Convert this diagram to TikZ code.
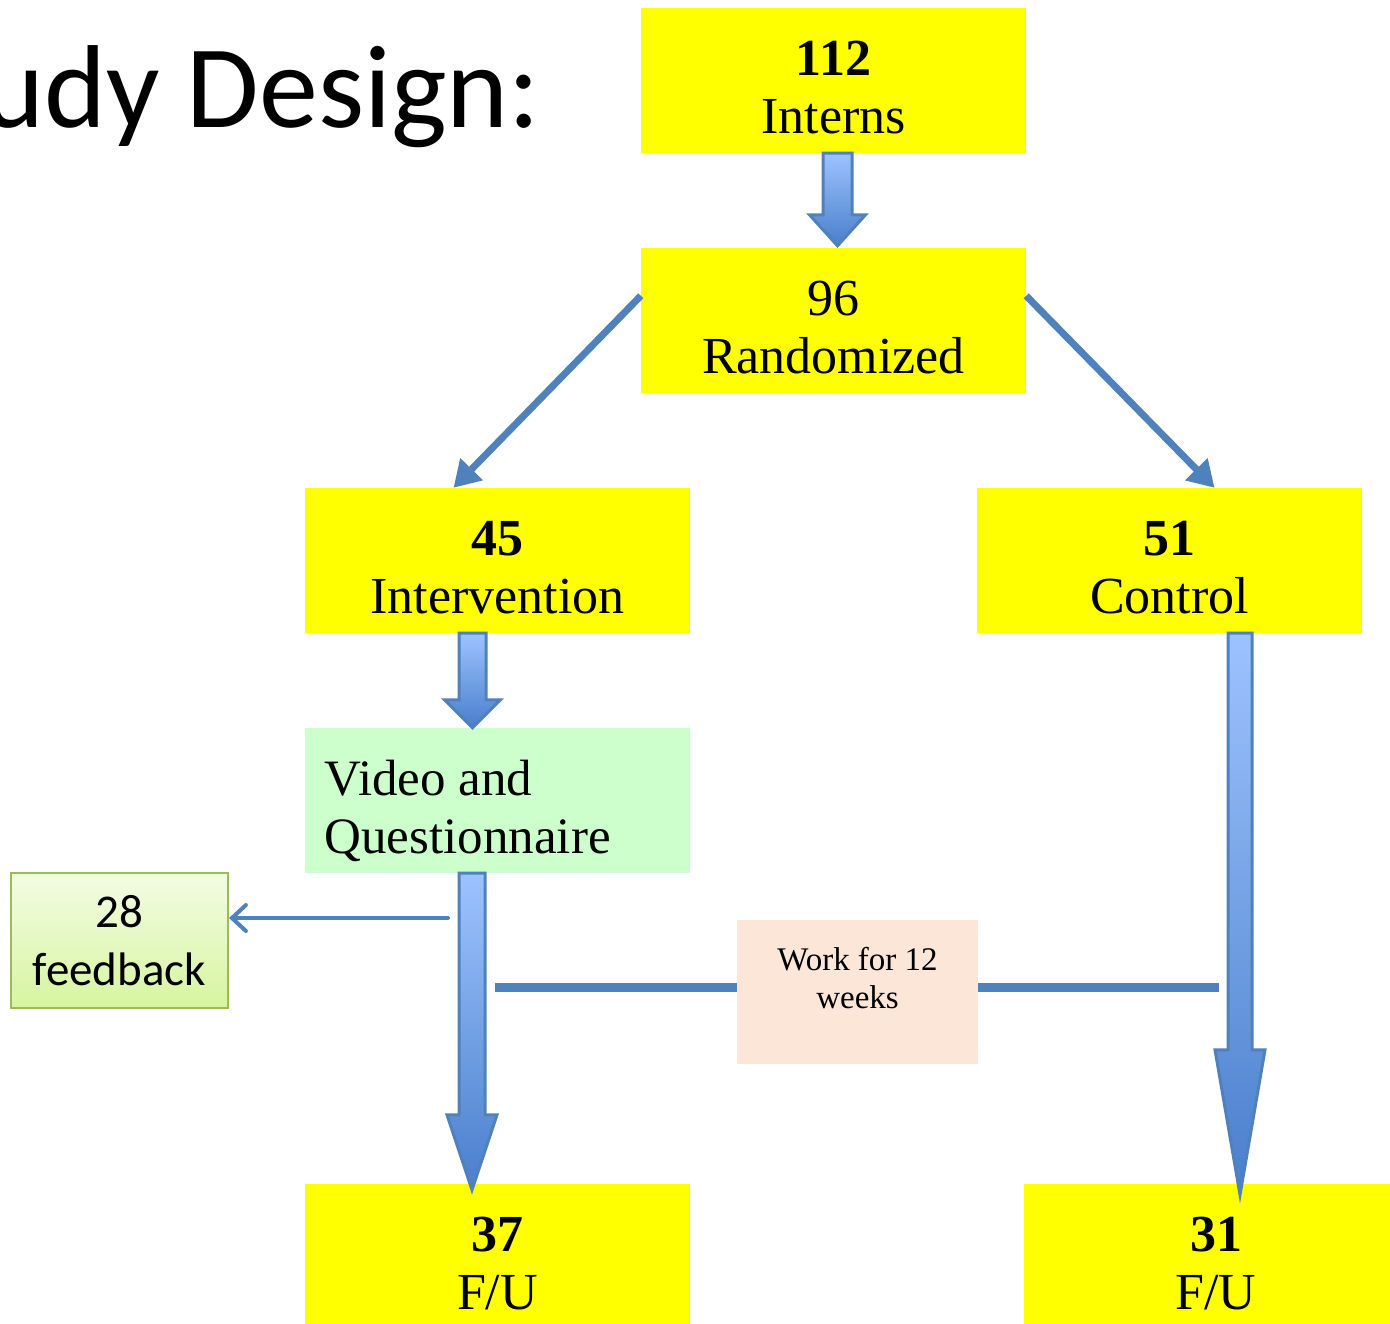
\documentclass[tikz,border=0pt]{standalone}
\usepackage{fontspec}
\setmainfont{Liberation Serif}
\newfontfamily\calibri{Carlito}
\usetikzlibrary{calc,arrows.meta}
\definecolor{ybox}{HTML}{FFFF00}
\definecolor{vgreen}{HTML}{CCFFCC}
\definecolor{peach}{HTML}{FCE6D8}
\definecolor{lblue}{HTML}{9DC3FF}
\definecolor{dblue}{HTML}{4A7FCB}
\definecolor{eblue}{HTML}{4F81BD}
\definecolor{fbtop}{HTML}{F3FCE3}
\definecolor{fbbot}{HTML}{D6F5A0}
\definecolor{fbedge}{HTML}{9BBB59}
\newcommand\ystrut{\rule{0pt}{49pt}}
\tikzset{
  yellowbox/.style={fill=ybox, minimum width=385pt, minimum height=145pt, inner sep=0pt, align=center, font=\fontsize{52}{58}\selectfont},
  greenbox/.style={fill=vgreen, minimum width=385pt, minimum height=145pt, inner sep=0pt},
  fbbox/.style={draw=fbedge, line width=2pt, top color=fbtop, bottom color=fbbot, minimum width=217pt, minimum height=135pt, inner sep=0pt, align=center, font=\calibri\fontsize{47}{58}\selectfont},
  workbox/.style={fill=peach, minimum width=241pt, minimum height=144pt, inner sep=0pt},
  barrow/.style={draw=eblue, line width=3pt, line join=miter, top color=lblue, bottom color=dblue},
  thinarrow/.style={draw=eblue, line width=7pt, -{Triangle[width=30pt,length=26pt]}},
  fbarrow/.style={draw=eblue, line width=4pt, line cap=round, -{Straight Barb[length=14pt,width=26pt,line cap=round]}},
  hline/.style={draw=eblue, line width=9pt},
}
\newcommand\blockarr[5]{%
  \path[barrow] let \p1=(#1), \p2=(#2) in
  (\x2-#3,\y1) -- (\x2+#3,\y1) -- (\x2+#3,\y2+#5) -- (\x2+#4,\y2+#5) -- (\x2,\y2)
  -- (\x2-#4,\y2+#5) -- (\x2-#3,\y2+#5) -- cycle;}
\begin{document}
\begin{tikzpicture}[x=1pt,y=-1pt]
\useasboundingbox (0,0) rectangle (1390,1324);
\clip (0,0) rectangle (1390,1324);
\node[anchor=base east, font=\calibri\fontsize{118}{118}\selectfont] (title) at (544,128) {Study Design:};
\node[yellowbox] (interns) at (833.5,80.5) {\ystrut\textbf{112}\\Interns};
\node[yellowbox] (rand) at (833.5,320.5) {\ystrut 96\\Randomized};
\node[yellowbox] (interv) at (497.5,560.5) {\ystrut\textbf{45}\\Intervention};
\node[yellowbox] (control) at (1169.5,560.5) {\ystrut\textbf{51}\\Control};
\node[greenbox] (video) at (497.5,800.5) {};
\node[anchor=base west, align=left, font=\fontsize{51}{58}\selectfont] (videotext) at (321,853) {Video and\\Questionnaire};
\node[yellowbox] (fu1) at (497.5,1256.5) {\ystrut\textbf{37}\\F/U};
\node[yellowbox, minimum width=384pt] (fu2) at (1216,1256.5) {\ystrut\textbf{31}\\F/U};
\node[fbbox] (fb) at (119.5,940.5) {28\\feedback};
\node[workbox] (work) at (857.5,992) {};
\node[align=center, font=\fontsize{33}{38}\selectfont] (worktext) at (857.5,978) {Work for 12\\weeks};
% connectors
\blockarr{interns.south}{[xshift=4pt,yshift=2pt]rand.north}{14.5pt}{28pt}{31pt}
\blockarr{interv.south}{[xshift=-25pt,yshift=0pt]video.north}{13.5pt}{28pt}{28pt}
\draw[thinarrow] ([yshift=-48pt]rand.north west) -- ([xshift=-44pt]interv.north);
\draw[thinarrow] ([yshift=-48pt]rand.north east) -- ([xshift=45pt]control.north);
\coordinate (fbstart) at (448,918);
\draw[fbarrow] (fbstart) -- (fbstart -| fb.east);
\coordinate (wl) at (495,987);
\coordinate (wr) at (1219,987);
\draw[hline] (wl) -- (wl -| work.west);
\draw[hline] (wr -| work.east) -- (wr);
\blockarr{video.south}{[xshift=-25.5pt,yshift=-6pt]fu1.north}{13pt}{25pt}{75pt}
\blockarr{control.south}{[xshift=24pt,yshift=-11pt]fu2.north}{12pt}{25pt}{145pt}
\end{tikzpicture}
\end{document}
